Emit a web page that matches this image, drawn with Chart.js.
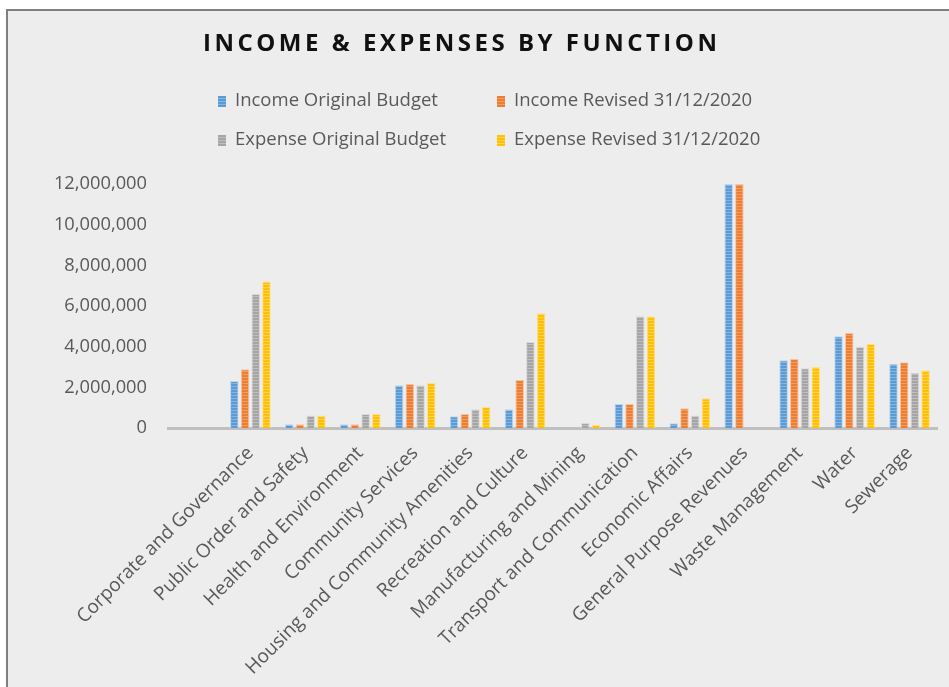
<!DOCTYPE html>
<html>
<head>
<meta charset="utf-8">
<script src="https://cdn.jsdelivr.net/npm/chart.js@4"></script>
<style>
  html, body { margin: 0; padding: 0; background: #ffffff; }
  canvas { display: block; }
</style>
</head>
<body>
<canvas id="c" width="949" height="687"></canvas>
<script>
const categories = ["", "Corporate and Governance", "Public Order and Safety", "Health and Environment", "Community Services", "Housing and Community Amenities", "Recreation and Culture", "Manufacturing and Mining", "Transport and Communication", "Economic Affairs", "General Purpose Revenues", "Waste Management", "Water", "Sewerage"];
const seriesNames = ["Income Original Budget", "Income Revised 31/12/2020", "Expense Original Budget", "Expense Revised 31/12/2020"];
const incomeOriginal  = [null, 2310000, 180000, 180000, 2100000,  580000,  920000,      0, 1180000,  230000, 12000000, 3330000, 4510000, 3160000];
const incomeRevised   = [null, 2890000, 180000, 180000, 2160000,  690000, 2360000,      0, 1180000,  970000, 12000000, 3390000, 4670000, 3230000];
const expenseOriginal = [null, 6590000, 620000, 690000, 2100000,  920000, 4230000, 250000, 5500000,  620000,        0, 2940000, 4000000, 2720000];
const expenseRevised  = [null, 7200000, 620000, 690000, 2210000, 1030000, 5640000, 150000, 5500000, 1460000,        0, 3000000, 4130000, 2840000];
const yTicks = [0, 2000000, 4000000, 6000000, 8000000, 10000000, 12000000];
const titleText = "INCOME & EXPENSES BY FUNCTION";

const baseColors  = ["#5b9bd5", "#ed7d31", "#a5a5a5", "#ffc000"];
const lightColors = ["#86b5e2", "#f29c62", "#bdbdbd", "#ffd24d"];
const edgeColors  = ["#bcd6ef", "#f7c4a2", "#d9d9d9", "#ffe08a"];

function makePattern(base, light) {
  const pc = document.createElement("canvas");
  pc.width = 4; pc.height = 3;
  const p = pc.getContext("2d");
  p.fillStyle = base; p.fillRect(0, 0, 4, 2);
  p.fillStyle = light; p.fillRect(0, 2, 4, 1);
  return document.getElementById("c").getContext("2d").createPattern(pc, "repeat");
}
const patterns = baseColors.map((b, i) => makePattern(b, lightColors[i]));
const seriesData = [incomeOriginal, incomeRevised, expenseOriginal, expenseRevised];

const framePlugin = {
  id: "frame",
  beforeDraw(chart) {
    const ctx = chart.ctx;
    ctx.save();
    ctx.fillStyle = "#ffffff";
    ctx.fillRect(0, 0, chart.width, chart.height);
    ctx.fillStyle = "#ededed";
    ctx.fillRect(6, 9, chart.width - 6, chart.height - 9);
    ctx.fillStyle = "#7f7f7f";
    ctx.fillRect(6, 9, chart.width - 6, 2);
    ctx.fillRect(6, 9, 2, chart.height - 9);
    ctx.restore();
  },
  afterDraw(chart) {
    const ctx = chart.ctx;
    ctx.save();
    // title
    ctx.font = 'bold 24px "Open Sans"';
    ctx.letterSpacing = "3.5px";
    ctx.fillStyle = "#111111";
    ctx.textAlign = "left";
    ctx.textBaseline = "alphabetic";
    ctx.fillText(titleText, 203, 51);
    ctx.letterSpacing = "0px";
    // legend
    ctx.font = '18.5px "Open Sans"';
    ctx.textBaseline = "middle";
    const pos = [[218, 101], [497, 101], [218, 140], [497, 140]];
    chart.data.datasets.forEach((ds, i) => {
      const [x, y] = pos[i];
      ctx.fillStyle = ds.backgroundColor;
      ctx.fillRect(x, y - 5, 8, 11);
      ctx.fillStyle = "#595959";
      ctx.fillText(ds.label, x + 17, y);
    });
    ctx.restore();
  }
};

new Chart(document.getElementById("c"), {
  type: "bar",
  data: {
    labels: categories,
    datasets: seriesData.map((d, i) => ({
      label: seriesNames[i],
      data: d,
      backgroundColor: patterns[i],
      borderColor: edgeColors[i],
      borderWidth: 1,
      categoryPercentage: 0.78,
      barPercentage: 0.8
    }))
  },
  options: {
    responsive: false,
    devicePixelRatio: 1,
    animation: false,
    layout: { padding: { top: 184, left: 18, right: 12, bottom: 0 } },
    plugins: {
      legend: { display: false },
      title: { display: false },
      tooltip: { enabled: false }
    },
    scales: {
      x: {
        grid: { display: false, drawTicks: false },
        border: { display: true, color: "#bfbfbf", width: 3 },
        ticks: {
          autoSkip: false,
          minRotation: 45,
          maxRotation: 45,
          padding: 14,
          color: "#595959",
          font: { family: "Open Sans", size: 19 }
        },
        afterFit(scale) { scale.height = 259; }
      },
      y: {
        min: 0,
        max: 12000000,
        grid: { display: false, drawTicks: false },
        border: { display: false },
        afterBuildTicks(scale) { scale.ticks = yTicks.map(v => ({ value: v })); },
        ticks: {
          padding: 21,
          color: "#595959",
          font: { family: "Open Sans", size: 18.3 },
          callback: v => Number(v).toLocaleString("en-US")
        },
        afterFit(scale) { scale.width = 150; }
      }
    }
  },
  plugins: [framePlugin]
});
</script>
</body>
</html>
